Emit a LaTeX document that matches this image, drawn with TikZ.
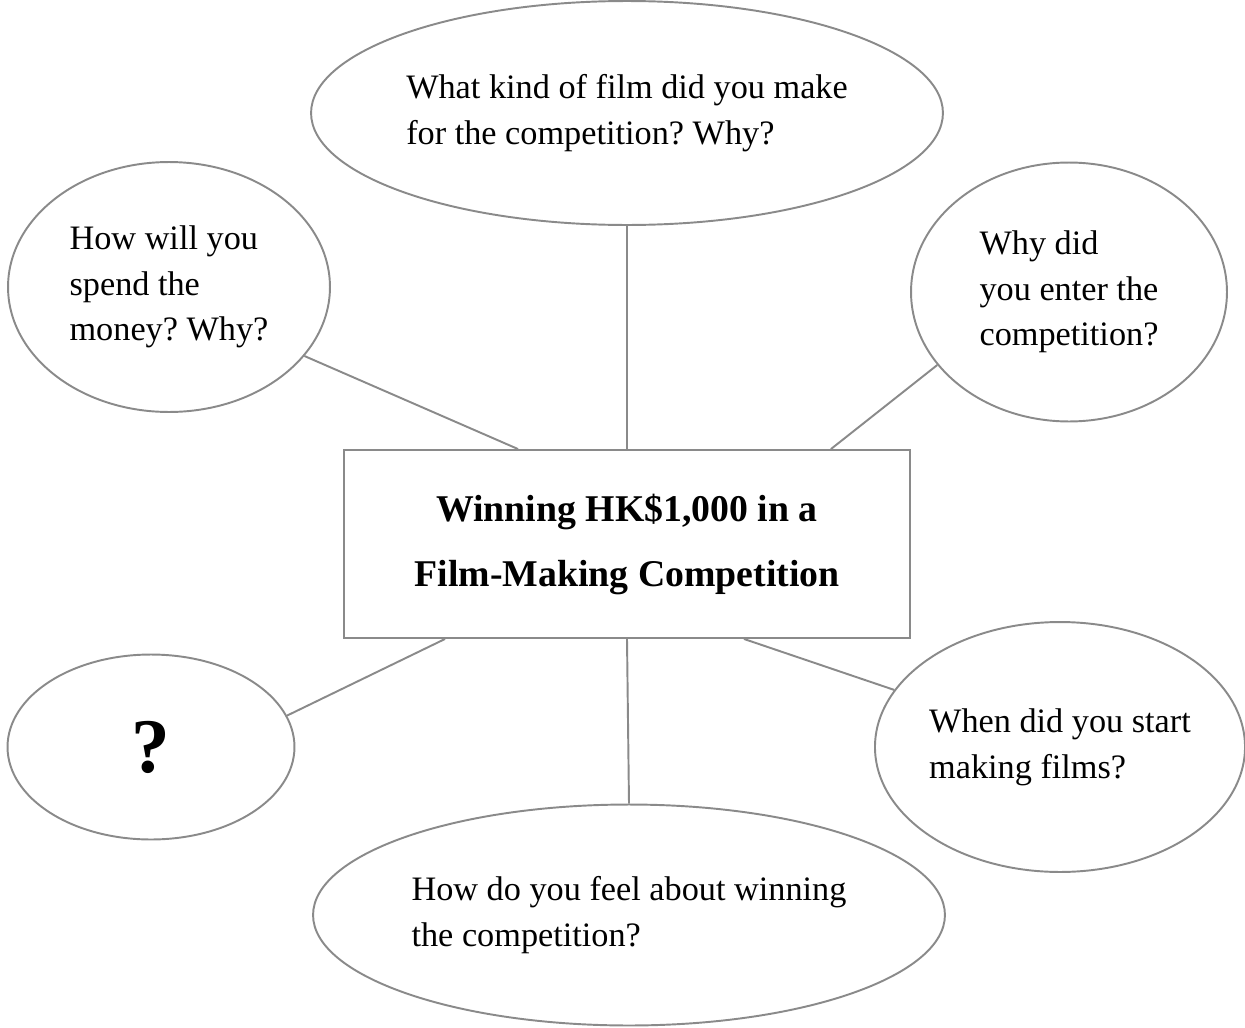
\documentclass[tikz,border=0pt]{standalone}
\usepackage{fontspec}
\setmainfont{Liberation Serif}
\usepackage{tikz}
\usetikzlibrary{positioning,shapes.geometric,calc}
\usepackage{xcolor}
\definecolor{frameGray}{HTML}{8A8A8A}
\frenchspacing

\begin{document}
\begin{tikzpicture}[x=0.02cm, y=-0.02cm,
        questionBubble/.style={ellipse, draw=frameGray, line width=1.1pt, inner sep=0pt, align=left, font=\fontsize{19.5}{26}\selectfont},
        linkStyle/.style={line width=1.1pt, draw=frameGray}
    ]
        \useasboundingbox (0,0) rectangle (1245,1028);

        % Topic
        \node[rectangle, draw=frameGray, line width=1.1pt, minimum width=11.32cm, minimum height=3.76cm, align=center, font=\fontsize{21.5}{37}\selectfont\bfseries] (topic) at (627,544) {
            Winning HK\$1,000 in a\\
            Film-Making Competition
        };

        % Questions
        \node[questionBubble, minimum width=12.64cm, minimum height=4.48cm] (filmQ) at (627,113) {
            What kind of film did you make\\
            for the competition? Why?
        };
        \node[questionBubble, minimum width=6.44cm, minimum height=5.0cm] (spendQ) at (169,287) {
            How will you\\
            spend the\\
            money? Why?
        };
        \node[questionBubble, minimum width=6.32cm, minimum height=5.18cm] (enterQ) at (1069,292) {
            Why did\\
            you enter the\\
            competition?
        };
        \node[questionBubble, minimum width=5.74cm, minimum height=3.7cm, font=\fontsize{44}{48}\selectfont\bfseries] (askQ) at (151,747) {?};
        \node[questionBubble, minimum width=7.32cm, minimum height=5.0cm] (startQ) at (1060,747) {
            When did you start\\
            making films?
        };
        \node[questionBubble, minimum width=12.64cm, minimum height=4.42cm] (feelQ) at (629,915) {
            How do you feel about winning\\
            the competition?
        };

        % Links
        \draw[linkStyle] (topic.north) -- (filmQ.south);
        \draw[linkStyle] ([xshift=3.5cm]topic.north west) -- (spendQ.-27);
        \draw[linkStyle] ([xshift=-1.6cm]topic.north east) -- (enterQ.209);
        \draw[linkStyle] ([xshift=2.04cm]topic.south west) -- (askQ.13);
        \draw[linkStyle] ([xshift=-3.34cm]topic.south east) -- (startQ.161);
        \draw[linkStyle] (topic.south) -- (feelQ.north);
    \end{tikzpicture}
\end{document}
